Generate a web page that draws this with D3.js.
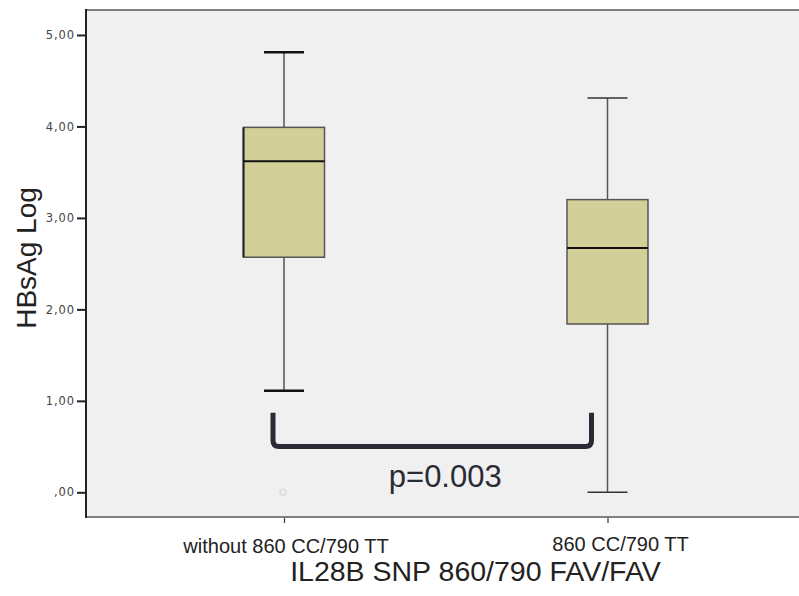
<!DOCTYPE html>
<html>
<head>
<meta charset="utf-8">
<script src="https://cdn.jsdelivr.net/npm/d3@7/dist/d3.min.js"></script>
<style>
  html, body { margin: 0; padding: 0; background: #ffffff; }
  svg { display: block; }
</style>
</head>
<body>
<script>
// Groups and box-plot summaries (HBsAg, log scale)
const categories = ["without 860 CC/790 TT", "860 CC/790 TT"];
const whiskerLow = [1.11, 0.00];
const q1 = [2.57, 1.84];
const median = [3.62, 2.67];
const q3 = [3.99, 3.20];
const whiskerHigh = [4.81, 4.31];
const outliers = [[0.00], []];
const yTicks = [0, 1, 2, 3, 4, 5];
const yTitle = "HBsAg Log";
const xTitle = "IL28B SNP 860/790 FAV/FAV";
const pLabel = "p=0.003";
// bracket drawn between the groups: top and bottom in data units
const bracketTop = 0.87;
const bracketBottom = 0.5;

const W = 799, H = 596;
const plot = { left: 86, top: 10, right: 802, bottom: 517 };

const svg = d3.select("body").append("svg")
  .attr("width", W).attr("height", H);

const x = d3.scalePoint().domain(categories).range([284, 607.5]);
const y = d3.scaleLinear().domain([-0.27, 5.273]).range([plot.bottom, plot.top]);

// plot background
svg.append("rect")
  .attr("x", plot.left).attr("y", plot.top)
  .attr("width", plot.right - plot.left).attr("height", plot.bottom - plot.top)
  .attr("fill", "#f0f0f0");

// frame lines
svg.append("line").attr("x1", plot.left).attr("x2", plot.right)
  .attr("y1", plot.top).attr("y2", plot.top)
  .attr("stroke", "#808080").attr("stroke-width", 2);
svg.append("line").attr("x1", plot.left).attr("x2", plot.right)
  .attr("y1", plot.bottom).attr("y2", plot.bottom)
  .attr("stroke", "#808080").attr("stroke-width", 2);

// y axis
const fmt = v => {
  const s = d3.format(".2f")(v).replace(".", ",");
  return s.startsWith("0,") ? s.slice(1) : s;
};
const yAxis = svg.append("g")
  .attr("transform", `translate(${plot.left},0)`)
  .call(d3.axisLeft(y).tickValues(yTicks).tickFormat(fmt).tickSize(9).tickPadding(2));
yAxis.select(".domain").remove();
yAxis.selectAll(".tick line").attr("stroke", "#222").attr("stroke-width", 2);
yAxis.selectAll(".tick text")
  .attr("fill", "#444")
  .style("font-family", "'DejaVu Sans', sans-serif")
  .style("font-size", "11.5px")
  .style("letter-spacing", "0.9px");
svg.append("line").attr("x1", plot.left).attr("x2", plot.left)
  .attr("y1", plot.top - 1).attr("y2", plot.bottom + 1)
  .attr("stroke", "#222").attr("stroke-width", 2);

// x axis ticks and labels
const xAxis = svg.append("g")
  .attr("transform", `translate(0,${plot.bottom + 1})`)
  .call(d3.axisBottom(x).tickSize(5).tickPadding(0));
xAxis.select(".domain").remove();
xAxis.selectAll(".tick line").attr("stroke", "#333").attr("stroke-width", 1.2);
xAxis.selectAll(".tick text")
  .attr("fill", "#222")
  .attr("dy", null)
  .attr("y", (d, i) => i === 0 ? 35 : 33)
  .attr("dx", (d, i) => i === 0 ? 1.5 : 12.5)
  .style("font-family", "'Liberation Sans', Arial, sans-serif")
  .style("font-size", "20px");

// box plots
const boxW = 81, capW = 40;
const groups = svg.append("g").selectAll("g")
  .data(categories.map((c, i) => ({
    c, lo: whiskerLow[i], q1: q1[i], med: median[i], q3: q3[i], hi: whiskerHigh[i], out: outliers[i]
  })))
  .join("g");

// whisker stems
groups.append("line")
  .attr("x1", d => x(d.c)).attr("x2", d => x(d.c))
  .attr("y1", d => y(d.hi)).attr("y2", d => y(d.q3))
  .attr("stroke", "#555").attr("stroke-width", 1.5);
groups.append("line")
  .attr("x1", d => x(d.c)).attr("x2", d => x(d.c))
  .attr("y1", d => y(d.q1)).attr("y2", d => y(d.lo))
  .attr("stroke", "#555").attr("stroke-width", 1.5);

// whisker caps
groups.each(function (d, i) {
  const g = d3.select(this);
  [d.hi, d.lo].forEach(v => {
    g.append("line")
      .attr("x1", x(d.c) - capW / 2).attr("x2", x(d.c) + capW / 2)
      .attr("y1", y(v)).attr("y2", y(v))
      .attr("stroke", i === 0 ? "#111" : "#333")
      .attr("stroke-width", i === 0 ? 2.5 : 1.5);
  });
});

// boxes
groups.append("rect")
  .attr("x", d => x(d.c) - boxW / 2).attr("width", boxW)
  .attr("y", d => y(d.q3)).attr("height", d => y(d.q1) - y(d.q3))
  .attr("fill", "#d3cf99")
  .attr("stroke", "#555").attr("stroke-width", 1.5);
// darker left edge on the first box
groups.filter((d, i) => i === 0).append("line")
  .attr("x1", d => x(d.c) - boxW / 2).attr("x2", d => x(d.c) - boxW / 2)
  .attr("y1", d => y(d.q3)).attr("y2", d => y(d.q1))
  .attr("stroke", "#222").attr("stroke-width", 2);

// medians
groups.append("line")
  .attr("x1", d => x(d.c) - boxW / 2).attr("x2", d => x(d.c) + boxW / 2)
  .attr("y1", d => y(d.med)).attr("y2", d => y(d.med))
  .attr("stroke", "#111").attr("stroke-width", 2);

// outliers
groups.selectAll("circle")
  .data(d => d.out.map(v => ({ c: d.c, v })))
  .join("circle")
  .attr("cx", d => x(d.c) - 1).attr("cy", d => y(d.v))
  .attr("r", 3)
  .attr("fill", "none")
  .attr("stroke", "#dcdcdc").attr("stroke-width", 1.5);

// significance bracket
const bx0 = x(categories[0]) - 11, bx1 = x(categories[1]) - 16;
const by0 = y(bracketTop), by1 = y(bracketBottom), r = 6;
svg.append("path")
  .attr("d", `M${bx0},${by0} L${bx0},${by1 - r} Q${bx0},${by1} ${bx0 + r},${by1}
              L${bx1 - r},${by1} Q${bx1},${by1} ${bx1},${by1 - r} L${bx1},${by0}`)
  .attr("fill", "none")
  .attr("stroke", "#2a2a36").attr("stroke-width", 5)
  .attr("stroke-linejoin", "round");

svg.append("text")
  .attr("x", (bx0 + bx1) / 2 + 13).attr("y", 487)
  .attr("text-anchor", "middle")
  .attr("fill", "#2b2b35")
  .style("font-family", "'Liberation Sans', Arial, sans-serif")
  .style("font-size", "31px")
  .text(pLabel);

// axis titles
svg.append("text")
  .attr("transform", "translate(36,258) rotate(-90)")
  .attr("text-anchor", "middle")
  .attr("fill", "#222")
  .style("font-family", "'Liberation Sans', Arial, sans-serif")
  .style("font-size", "28px")
  .text(yTitle);

svg.append("text")
  .attr("x", 475.5).attr("y", 581)
  .attr("text-anchor", "middle")
  .attr("fill", "#222")
  .style("font-family", "'Liberation Sans', Arial, sans-serif")
  .style("font-size", "28.5px")
  .text(xTitle);
</script>
</body>
</html>
